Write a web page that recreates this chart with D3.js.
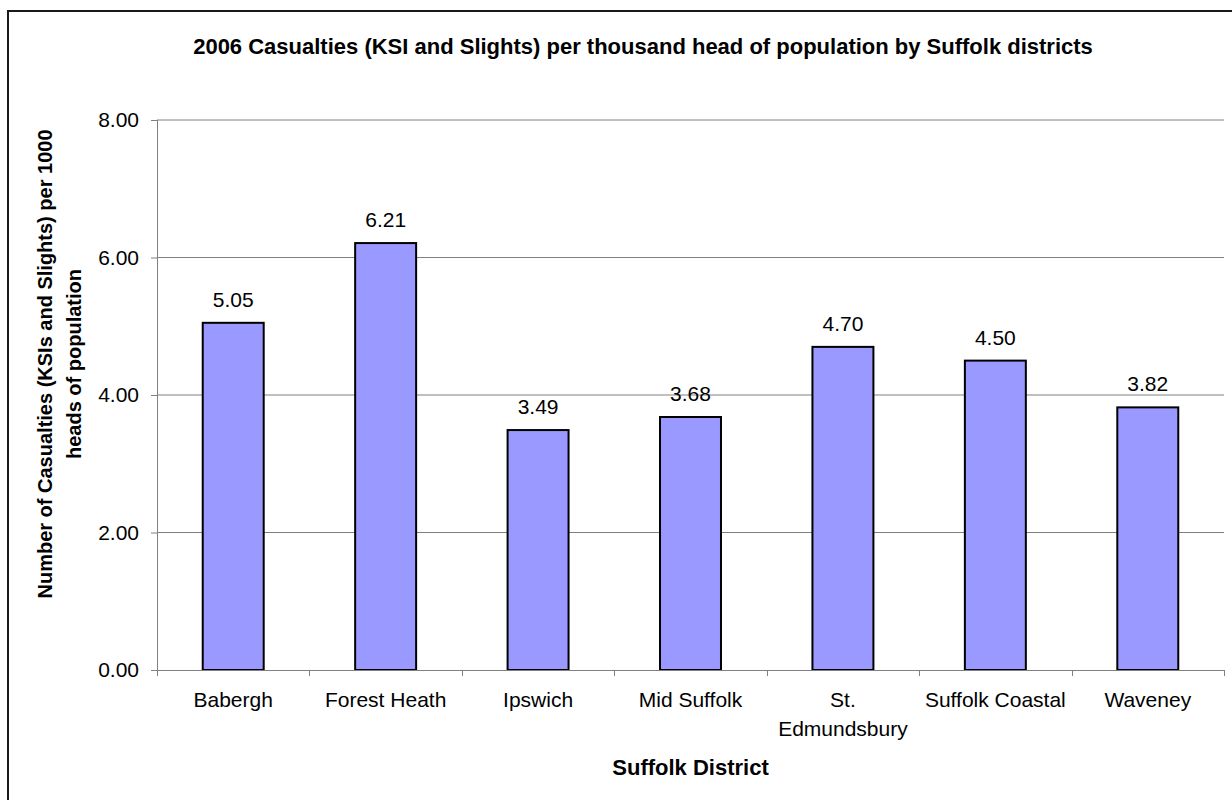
<!DOCTYPE html>
<html>
<head>
<meta charset="utf-8">
<script src="https://cdn.jsdelivr.net/npm/d3@7"></script>
<style>
  html, body { margin: 0; padding: 0; background: #fff; }
  svg { display: block; font-family: "Liberation Sans", Arial, sans-serif; }
</style>
</head>
<body>
<svg id="chart" width="1232" height="800"></svg>
<script>
// Casualty rates per 1000 residents, 2006, by district
const districts = ["Babergh", "Forest Heath", "Ipswich", "Mid Suffolk", "St. Edmundsbury", "Suffolk Coastal", "Waveney"];
const rates = [5.05, 6.21, 3.49, 3.68, 4.70, 4.50, 3.82];
const yTicks = [0, 2, 4, 6, 8];

const svg = d3.select("#chart");

// outer chart frame (runs off the right and bottom edges)
svg.append("rect")
  .attr("x", 8).attr("y", 11)
  .attr("width", 1300).attr("height", 850)
  .attr("fill", "none").attr("stroke", "#1a1a1a").attr("stroke-width", 2);

const plot = { left: 157, right: 1224, top: 120, bottom: 670 };

const x = d3.scaleBand()
  .domain(districts)
  .range([plot.left, plot.right])
  .paddingInner(0.6)
  .paddingOuter(0.3);

const y = d3.scaleLinear().domain([0, 8]).range([plot.bottom, plot.top]);

// horizontal gridlines
svg.append("g")
  .selectAll("line")
  .data(yTicks.filter(d => d > 0))
  .join("line")
  .attr("x1", plot.left).attr("x2", plot.right)
  .attr("y1", d => y(d)).attr("y2", d => y(d))
  .attr("stroke", "#808080").attr("stroke-width", 1);

// bars
svg.append("g")
  .selectAll("rect")
  .data(districts)
  .join("rect")
  .attr("x", d => x(d))
  .attr("width", x.bandwidth())
  .attr("y", (d, i) => y(rates[i]))
  .attr("height", (d, i) => y(0) - y(rates[i]))
  .attr("fill", "#9999ff")
  .attr("stroke", "#000")
  .attr("stroke-width", 2);

// value labels
svg.append("g")
  .selectAll("text")
  .data(districts)
  .join("text")
  .attr("x", d => x(d) + x.bandwidth() / 2)
  .attr("y", (d, i) => y(rates[i]) - 16)
  .attr("text-anchor", "middle")
  .attr("font-size", 21)
  .attr("fill", "#000")
  .text((d, i) => rates[i].toFixed(2));

// y axis
const yAxis = svg.append("g")
  .attr("transform", `translate(${plot.left},0)`)
  .call(d3.axisLeft(y).tickValues(yTicks).tickSize(6).tickPadding(12).tickFormat(d3.format(".2f")));
yAxis.select(".domain").attr("stroke", "#808080").attr("d", `M0.5,${plot.top}V${plot.bottom}`);
yAxis.selectAll(".tick line").attr("stroke", "#808080");
yAxis.selectAll(".tick text").attr("font-size", 21).attr("font-family", "Liberation Sans, Arial, sans-serif").attr("fill", "#000");

// x axis: baseline plus tick marks at category boundaries
const xAxis = svg.append("g").attr("transform", `translate(0,${plot.bottom})`);
xAxis.append("line")
  .attr("x1", plot.left).attr("x2", plot.right)
  .attr("y1", 0.5).attr("y2", 0.5)
  .attr("stroke", "#808080");
const step = (plot.right - plot.left) / districts.length;
xAxis.selectAll("line.tick")
  .data(d3.range(districts.length + 1))
  .join("line")
  .attr("class", "tick")
  .attr("x1", i => Math.round(plot.left + i * step) + 0.5)
  .attr("x2", i => Math.round(plot.left + i * step) + 0.5)
  .attr("y1", 0).attr("y2", 6)
  .attr("stroke", "#808080");

// category labels (wrapped where the name is long)
const catLabel = xAxis.selectAll("text.cat")
  .data(districts)
  .join("text")
  .attr("class", "cat")
  .attr("text-anchor", "middle")
  .attr("font-size", 21)
  .attr("fill", "#000");
catLabel.each(function (d) {
  const cx = x(d) + x.bandwidth() / 2;
  const lines = d === "St. Edmundsbury" ? ["St.", "Edmundsbury"] : [d];
  d3.select(this).selectAll("tspan")
    .data(lines)
    .join("tspan")
    .attr("x", cx)
    .attr("y", (l, j) => 37 + j * 29)
    .text(l => l);
});

// chart title
svg.append("text")
  .attr("x", 643).attr("y", 54)
  .attr("text-anchor", "middle")
  .attr("font-size", 22).attr("font-weight", "bold")
  .text("2006 Casualties (KSI and Slights) per thousand head of population by Suffolk districts");

// axis titles
svg.append("text")
  .attr("x", (plot.left + plot.right) / 2).attr("y", 775)
  .attr("text-anchor", "middle")
  .attr("font-size", 22).attr("font-weight", "bold")
  .text("Suffolk District");

const yTitle = svg.append("text")
  .attr("transform", "translate(0,364) rotate(-90)")
  .attr("text-anchor", "middle")
  .attr("font-size", 20).attr("font-weight", "bold");
yTitle.append("tspan").attr("x", 0).attr("y", 52).text("Number of Casualties (KSIs and Slights) per 1000");
yTitle.append("tspan").attr("x", 0).attr("y", 81).text("heads of population");
</script>
</body>
</html>
